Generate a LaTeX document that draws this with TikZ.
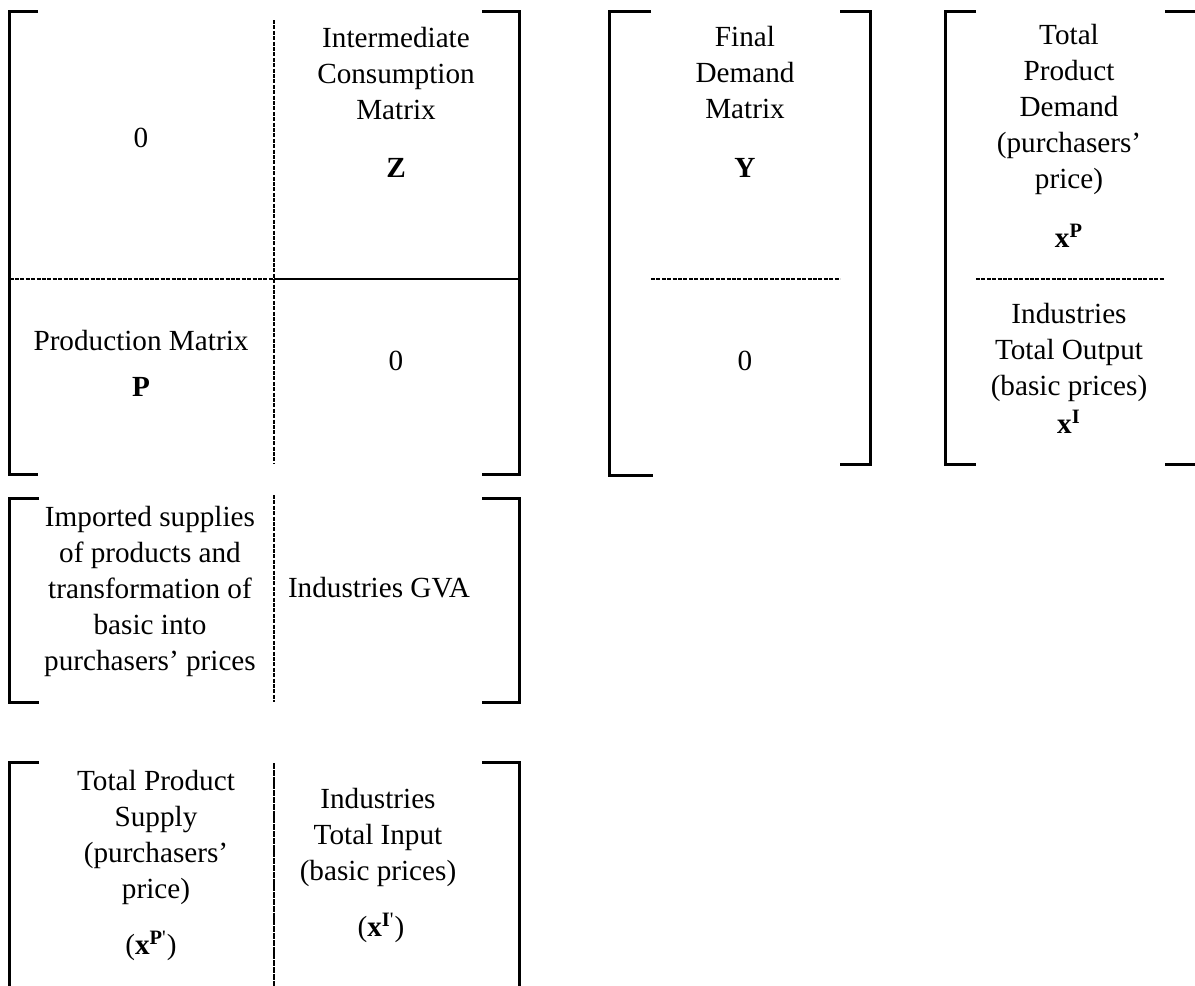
\documentclass[tikz,border=0pt]{standalone}
\usepackage{fontspec}
\setmainfont{Liberation Serif}
\begin{document}
\begin{tikzpicture}[x=0.5pt,y=-0.5pt]
\tikzset{
  brk/.style={line width=1.5pt, line cap=butt, line join=miter},
  dsh/.style={line width=0.7pt, dash pattern=on 2pt off 0.7pt},
  dshdense/.style={line width=0.8pt, dash pattern=on 3pt off 0.4pt},
  sol/.style={line width=1pt},
  txt/.style={align=center, inner sep=0pt, font=\fontsize{14.6}{18}\selectfont},
  sym/.style={inner sep=0pt, font=\fontsize{14.6}{18}\selectfont\bfseries},
}
\useasboundingbox (0,0) rectangle (1195,986);

% ---------- Bracket A (top-left block) ----------
\draw[brk] (38,11) -- (9.5,11) -- (9.5,474.5) -- (38,474.5);
\draw[brk] (482,11) -- (519,11) -- (519,474.5) -- (482,474.5);
\draw[dsh] (274,20) -- (274,463);
\draw[dsh] (9.5,279) -- (274,279);
\draw[sol] (274,279) -- (518,279);

\node[txt] (zeroA) at (141,138) {0};
\node[txt] (icm) at (396,74) {Intermediate\\Consumption\\Matrix};
\node[sym] (Z) at (396,168) {Z};
\node[txt] (prodm) at (141,341) {Production Matrix};
\node[sym] (P) at (141,387) {P};
\node[txt] (zeroB) at (396,361) {0};

% ---------- Bracket D (final demand) ----------
\draw[brk] (651,11) -- (609,11) -- (609,475) -- (653,475);
\draw[brk] (840,11) -- (870,11) -- (870,464) -- (840,464);
\draw[dsh] (651,279) -- (840,279);

\node[txt] (fdm) at (745,73) {Final\\Demand\\Matrix};
\node[sym] (Y) at (745,168) {Y};
\node[txt] (zeroC) at (745,361) {0};

% ---------- Bracket E (total product demand) ----------
\draw[brk] (976,11) -- (945,11) -- (945,464) -- (976,464);
\draw[brk] (1165,11) -- (1197,11);
\draw[brk] (1165,464) -- (1197,464);
\draw[dsh] (976,279) -- (1164,279);

\node[txt] (tpd) at (1069,109) {Total\\Product\\Demand\\(purchasers’\\price)};
\node[sym] (xP) at (1069,236) {x\textsuperscript{P}};
\node[txt] (iot) at (1069,352) {Industries\\Total Output\\(basic prices)};
\node[sym] (xI) at (1069,422) {x\textsuperscript{I}};

% ---------- Bracket B (middle block) ----------
\draw[brk] (39,498) -- (9.5,498) -- (9.5,702) -- (39,702);
\draw[brk] (482,498) -- (519,498) -- (519,702) -- (482,702);
\draw[dsh] (274,495) -- (274,702);

\node[txt] (imp) at (150,591) {Imported supplies\\of products and\\transformation of\\basic into\\purchasers’ prices};
\node[txt] (gva) at (379,588) {Industries GVA};

% ---------- Bracket C (bottom block) ----------
\draw[brk] (39,762) -- (9.5,762) -- (9.5,990);
\draw[brk] (482,762) -- (519,762) -- (519,990);
\draw[dshdense] (274,763) -- (274,990);

\node[txt] (tps) at (156,837) {Total Product\\Supply\\(purchasers’\\price)};
\node[txt] (xPp) at (151,946) {(\textbf{x}\textsuperscript{\textbf{P}\textquotesingle})};
\node[txt] (iti) at (378,837) {Industries\\Total Input\\(basic prices)};
\node[txt] (xIp) at (381,928) {(\textbf{x}\textsuperscript{\textbf{I}\textquotesingle})};
\end{tikzpicture}
\end{document}
